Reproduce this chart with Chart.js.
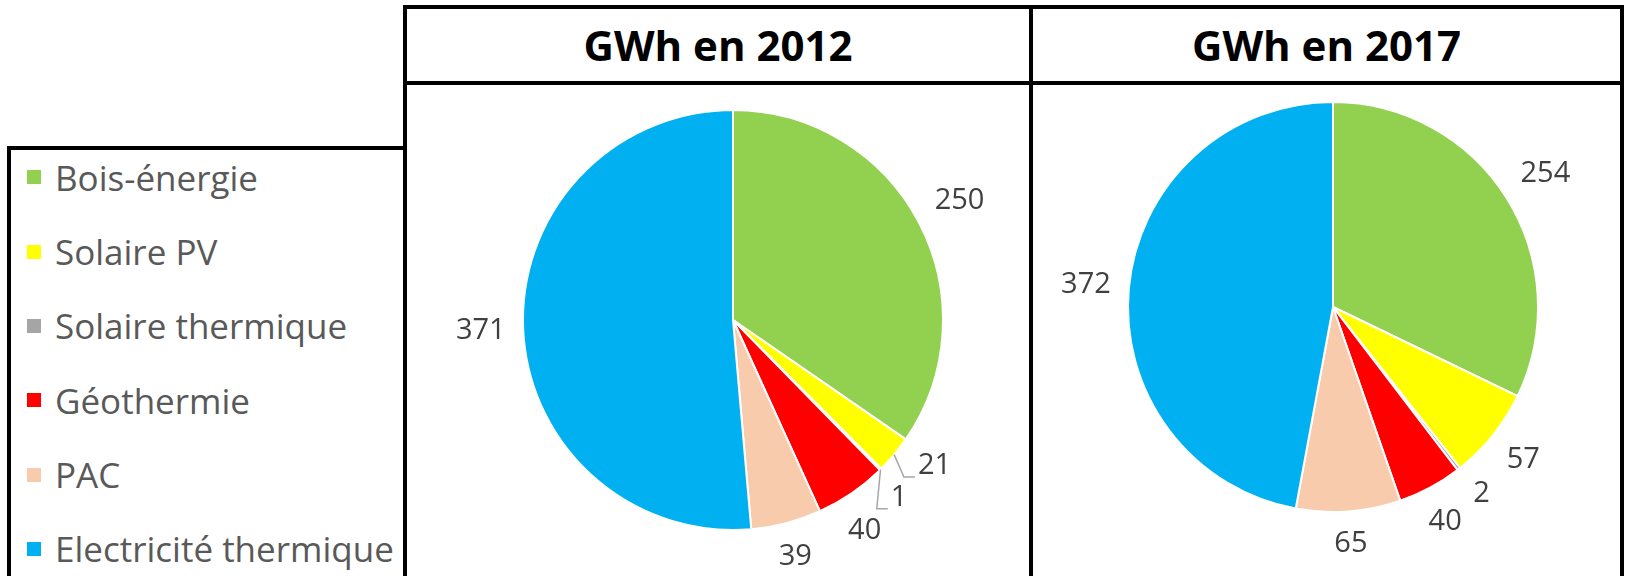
<!DOCTYPE html>
<html>
<head>
<meta charset="utf-8">
<script src="https://cdn.jsdelivr.net/npm/chart.js@4.4.1/dist/chart.umd.min.js"></script>
<style>
  body { margin: 0; width: 1627px; height: 576px; background: #fff; position: relative; overflow: hidden; font-family: 'Open Sans', sans-serif; }
  .ln { position: absolute; background: #000; }
  .title { position: absolute; top: 9px; height: 72px; line-height: 72px; text-align: center; font-weight: bold; font-size: 42px; color: #000; }
  .item { position: absolute; left: 27px; height: 40px; display: flex; align-items: center; font-size: 35px; color: #595959; white-space: nowrap; }
  .item span.box { width: 14px; height: 14px; margin-right: 14px; flex: none; }
  canvas { position: absolute; }
</style>
</head>
<body>
<div class="ln" style="left:403px;top:5px;width:1221px;height:4px"></div>
<div class="ln" style="left:403px;top:81px;width:1221px;height:4px"></div>
<div class="ln" style="left:403px;top:5px;width:4px;height:571px"></div>
<div class="ln" style="left:1029px;top:5px;width:4px;height:571px"></div>
<div class="ln" style="left:1620px;top:5px;width:4px;height:571px"></div>
<div class="ln" style="left:7px;top:146px;width:400px;height:4px"></div>
<div class="ln" style="left:7px;top:146px;width:4px;height:430px"></div>

<div class="title" id="t1" style="left:407px;width:622px"></div>
<div class="title" id="t2" style="left:1033px;width:587px"></div>
<div id="legend"></div>

<canvas id="pie2012" width="618" height="490" style="left:410px;top:86px"></canvas>
<canvas id="pie2017" width="585" height="490" style="left:1034px;top:86px"></canvas>

<script>
const categories = ["Bois-énergie", "Solaire PV", "Solaire thermique", "Géothermie", "PAC", "Electricité thermique"];
const colors = ["#92d050", "#ffff00", "#a5a5a5", "#ff0000", "#f8cbad", "#00b0f0"];
const values2012 = [250, 21, 1, 40, 39, 371];
const values2017 = [254, 57, 2, 40, 65, 372];
const titles = ["GWh en 2012", "GWh en 2017"];

document.getElementById("t1").textContent = titles[0];
document.getElementById("t2").textContent = titles[1];

// legend box on the left
const legend = document.getElementById("legend");
categories.forEach((name, i) => {
    const div = document.createElement("div");
    div.className = "item";
    div.style.top = (157.3 + i * 74.3) + "px";
    div.innerHTML = `<span class="box" style="background:${colors[i]}"></span>${name}`;
    legend.appendChild(div);
});

// values outside the slices, pushed apart when they crowd, leader line for small pushed ones
const outsideLabels = {
    id: "outsideLabels",
    afterDatasetsDraw(chart, args, o) {
        const ctx = chart.ctx;
        const meta = chart.getDatasetMeta(0);
        const vals = chart.data.datasets[0].data;
        ctx.save();
        ctx.font = o.size + "px " + o.family;
        ctx.textAlign = "center";
        ctx.textBaseline = "middle";
        const items = meta.data.map((arc, i) => {
            const p = arc.getProps(["x", "y", "startAngle", "endAngle", "outerRadius"], true);
            const mid = (p.startAngle + p.endAngle) / 2;
            return { p, mid, a: mid, text: String(vals[i]), span: p.endAngle - p.startAngle };
        });
        const sorted = items.slice().sort((a, b) => a.mid - b.mid);
        const sep = o.minSep * Math.PI / 180;
        for (let k = 0; k < 100; k++) {
            for (let j = 1; j < sorted.length; j++) {
                const d = sorted[j].a - sorted[j - 1].a;
                if (d < sep) {
                    const push = (sep - d) / 2;
                    sorted[j].a += push;
                    sorted[j - 1].a -= push;
                }
            }
        }
        items.forEach(it => {
            const { x, y, outerRadius: r } = it.p;
            const hw = ctx.measureText(it.text).width / 2;
            const hh = o.size / 2;
            const c = Math.cos(it.a), s = Math.sin(it.a);
            const d = r + o.gap + hw * Math.abs(c) + hh * Math.abs(s);
            const lx = x + d * c, ly = y + d * s;
            ctx.fillStyle = o.color;
            ctx.fillText(it.text, lx, ly);
            const moved = Math.abs(it.a - it.mid) > 1.5 * Math.PI / 180;
            if (moved && it.span < 15 * Math.PI / 180) {
                const bx = lx - hw - 3, by = ly + hh * 0.75;
                ctx.strokeStyle = o.leaderColor;
                ctx.lineWidth = 1.5;
                ctx.beginPath();
                ctx.moveTo(x + r * Math.cos(it.mid), y + r * Math.sin(it.mid));
                ctx.lineTo(bx - 11, by);
                ctx.lineTo(bx, by);
                ctx.stroke();
            }
        });
        ctx.restore();
    }
};

function makePie(id, values, pad) {
    return new Chart(document.getElementById(id), {
        type: "pie",
        data: {
            labels: categories,
            datasets: [{
                data: values,
                backgroundColor: colors,
                borderColor: "#ffffff",
                borderWidth: 2
            }]
        },
        options: {
            responsive: false,
            animation: false,
            events: [],
            layout: { padding: pad },
            plugins: {
                legend: { display: false },
                tooltip: { enabled: false },
                outsideLabels: {
                    gap: 17,
                    minSep: 11,
                    size: 29,
                    family: "'Open Sans', sans-serif",
                    color: "#404040",
                    leaderColor: "#a6a6a6"
                }
            }
        },
        plugins: [outsideLabels]
    });
}

makePie("pie2012", values2012, { left: 112, right: 84, top: 23, bottom: 45 });
makePie("pie2017", values2017, { left: 93, right: 80, top: 15, bottom: 63 });
</script>
</body>
</html>
